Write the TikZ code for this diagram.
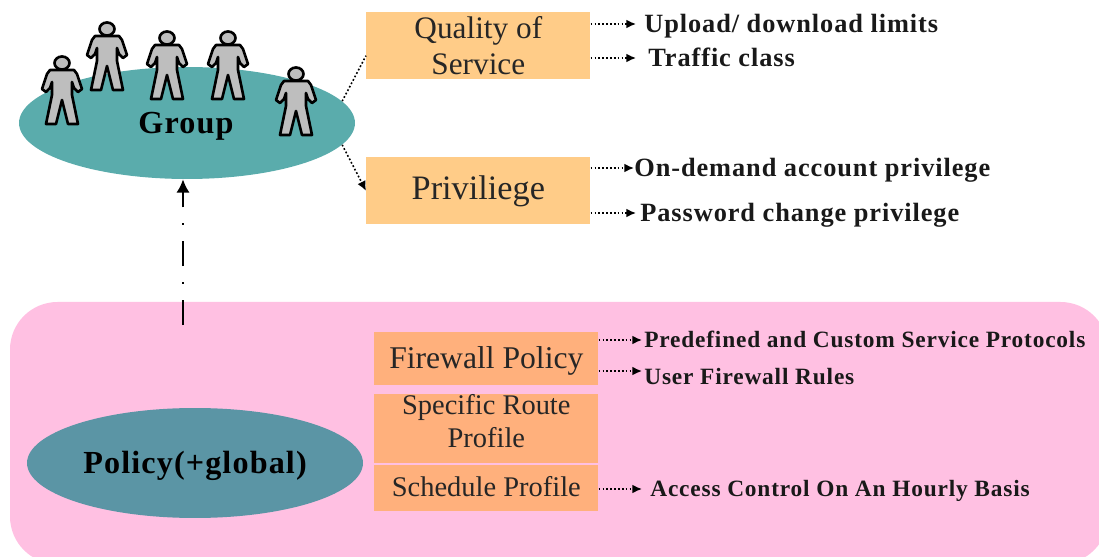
\documentclass[tikz,border=0pt]{standalone}
\usepackage{fontspec}
\setmainfont{Liberation Serif}
\newfontfamily\spacedfont[LetterSpace=3.5]{Liberation Serif}
\usetikzlibrary{arrows.meta,shapes.geometric}

\definecolor{groupteal}{HTML}{5AACAC}
\definecolor{policyteal}{HTML}{5B95A5}
\definecolor{panelpink}{HTML}{FFC0E2}
\definecolor{lightorange}{HTML}{FFCC88}
\definecolor{darkorange}{HTML}{FFB07C}
\definecolor{persongray}{HTML}{BEBEBE}

\tikzset{
  x=0.02cm, y=-0.02cm,
  blob/.style={ellipse, inner sep=0pt, minimum width=6.72cm, text=black, font=\spacedfont\fontsize{18.3}{22}\selectfont\bfseries},
  profile/.style={anchor=north west, inner ysep=0pt, minimum width=4.48cm, align=center, text=black!85},
  item/.style={anchor=west, text height=12.7pt, text depth=2.9pt, inner ysep=0pt, text=black!90, font=\spacedfont\fontsize{15}{18}\selectfont\bfseries},
  itemsmall/.style={item, text height=11.3pt, text depth=2.5pt, font=\spacedfont\fontsize{13.3}{16}\selectfont\bfseries},
  dotarrow/.style={line width=0.9pt, dash pattern=on 1pt off 1.2pt, -{Latex[length=5.5pt,width=5pt]}},
  person/.pic={
    \draw[fill=persongray, line width=1.5pt, line join=round]
      (-12,7) -- (12,7) -- (15,11) -- (20,26) -- (16,29) -- (12,25) -- (10,19) -- (10,32)
      -- (16,61) -- (6,61) -- (0,37) -- (-6,61) -- (-16,61) -- (-10,32) -- (-10,19)
      -- (-12,25) -- (-16,29) -- (-20,26) -- (-15,11) -- cycle;
    \draw[fill=persongray, line width=1.5pt] (0,0) ellipse (7.5 and 6.5);
  }
}

\begin{document}
\begin{tikzpicture}
  \useasboundingbox (0,0) rectangle (1099,557);
  \clip (0,0) rectangle (1099,557);
  \fill[panelpink, rounded corners=0.95cm] (10,302) rectangle (1108,564);

  \node[blob, fill=groupteal, minimum height=2.24cm] (group) at (187,123) {};
  \node[blob, fill=policyteal, minimum height=2.2cm, text height=16pt, text depth=4pt] (policy) at (195,463) {Policy(+global)};
  \node[blob, minimum width=0pt] (grouplabel) at (186,126) {Group};

  \foreach \px/\py/\pname in {62/63/pa, 107/29/pb, 167/38/pc, 228/38/pd, 296/74/pe}
    \pic (\pname) at (\px,\py) {person};

  \node[profile, fill=lightorange, minimum height=1.34cm, font=\fontsize{17.8}{20.5}\selectfont] (qos) at (366,12) {Quality of\\Service};
  \node[profile, fill=lightorange, minimum height=1.34cm, font=\fontsize{19.5}{23}\selectfont] (priv) at (366,157) {Priviliege};
  \node[profile, fill=darkorange, minimum height=1.06cm, text height=14.5pt, font=\fontsize{18}{21}\selectfont] (firewall) at (374,332) {Firewall Policy};
  \node[profile, fill=darkorange, minimum height=1.16cm, text depth=9pt, font=\fontsize{16.2}{18.7}\selectfont] (route) at (374,394) {Specific Route\\Profile};
  \node[profile, fill=darkorange, minimum height=0.92cm, text depth=2pt, font=\fontsize{16.2}{19}\selectfont] (schedule) at (374,465) {Schedule Profile};

  \node[item, inner xsep=0.16cm] (upload) at (636,24) {Upload/ download limits};
  \node[item, inner xsep=0.24cm] (traffic) at (636,58) {Traffic class};
  \node[item, inner xsep=0pt] (demand) at (634,168) {On-demand account privilege};
  \node[item, inner xsep=0.08cm] (password) at (636,213) {Password change privilege};
  \node[itemsmall, inner xsep=0.04cm] (predefined) at (642,340) {Predefined and Custom Service Protocols};
  \node[itemsmall, inner xsep=0.04cm] (userrules) at (642,377) {User Firewall Rules};
  \node[itemsmall, inner xsep=0.16cm] (access) at (642,489) {Access Control On An Hourly Basis};
  \coordinate (panelstart) at (183,325);

  \draw[line width=0.9pt, dash pattern=on 1pt off 1.2pt] (group.8.5) -- (qos.185);
  \draw[dotarrow] (group.-8.5) -- (priv.west);
  \draw[line width=1.2pt, dash pattern=on 14.5pt off 9pt on 1pt off 9pt, -{Latex[length=7.5pt,width=7.5pt]}]
    (panelstart) -- (panelstart |- group.south);

  \draw[dotarrow] (qos.east |- upload.west) -- (upload.west);
  \draw[dotarrow] (qos.east |- traffic.west) -- (traffic.west);
  \draw[dotarrow] (priv.east |- demand.west) -- (demand.west);
  \draw[dotarrow] (priv.east |- password.west) -- (password.west);
  \draw[dotarrow] (firewall.east |- predefined.west) -- (predefined.west);
  \draw[dotarrow, transform canvas={yshift=3.4pt}] (firewall.east |- userrules.west) -- (userrules.west);
  \draw[dotarrow] (schedule.east |- access.west) -- (access.west);
\end{tikzpicture}
\end{document}
